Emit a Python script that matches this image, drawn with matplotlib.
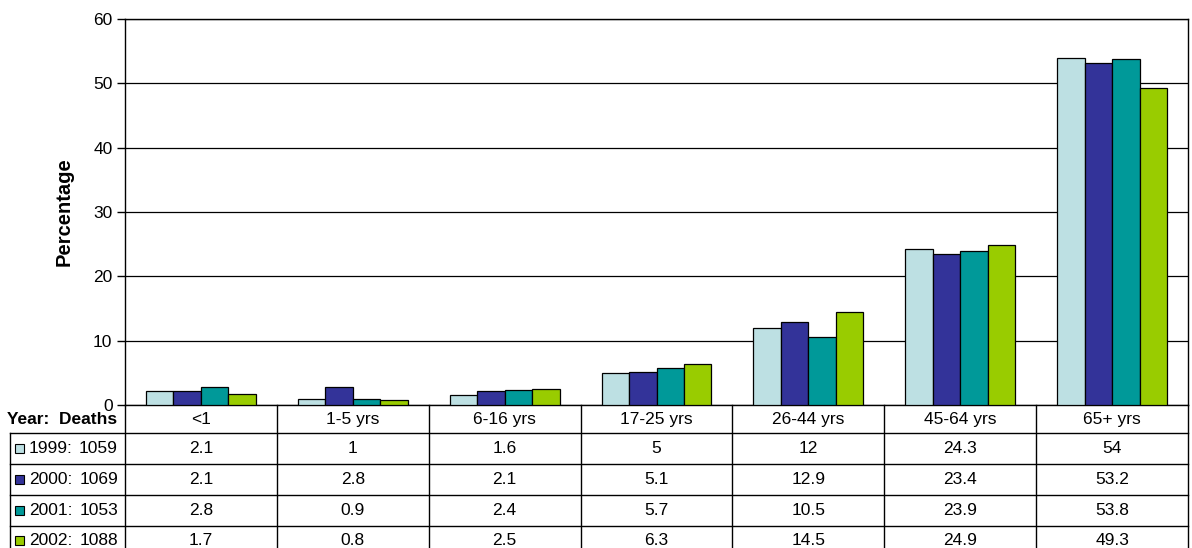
import matplotlib
matplotlib.use("Agg")
import matplotlib.pyplot as plt
from matplotlib.patches import Rectangle

plt.rcParams['font.family'] = ['Liberation Sans', 'DejaVu Sans']

categories = ['<1', '1-5 yrs', '6-16 yrs', '17-25 yrs', '26-44 yrs', '45-64 yrs', '65+ yrs']
years = ['1999', '2000', '2001', '2002']
deaths = ['1059', '1069', '1053', '1088']
v1999 = [2.1, 1, 1.6, 5, 12, 24.3, 54]
v2000 = [2.1, 2.8, 2.1, 5.1, 12.9, 23.4, 53.2]
v2001 = [2.8, 0.9, 2.4, 5.7, 10.5, 23.9, 53.8]
v2002 = [1.7, 0.8, 2.5, 6.3, 14.5, 24.9, 49.3]
series = [v1999, v2000, v2001, v2002]
labels_fmt = [['2.1', '1', '1.6', '5', '12', '24.3', '54'],
              ['2.1', '2.8', '2.1', '5.1', '12.9', '23.4', '53.2'],
              ['2.8', '0.9', '2.4', '5.7', '10.5', '23.9', '53.8'],
              ['1.7', '0.8', '2.5', '6.3', '14.5', '24.9', '49.3']]
colors = ['#BDE0E3', '#333399', '#009999', '#99CC00']
yticks = [0, 10, 20, 30, 40, 50, 60]

FS = 12.5
W, H = 1192, 548
fig = plt.figure(figsize=(W / 100, H / 100), dpi=100)

# main axes in pixel geometry
L, R, T, B = 125, 1188, 19, 405
ax = fig.add_axes([L / W, 1 - B / H, (R - L) / W, (B - T) / H])
n = len(categories)
ax.set_xlim(-0.5, n - 0.5)
ax.set_ylim(0, 60)
bw = 0.181
for i, (vals, c) in enumerate(zip(series, colors)):
    xs = [k + (i - 1.5) * bw for k in range(n)]
    ax.bar(xs, vals, width=bw, color=c, edgecolor='black', linewidth=0.9, zorder=3)
ax.set_yticks(yticks)
ax.set_yticklabels([str(t) for t in yticks], fontsize=FS)
ax.set_xticks([])
ax.tick_params(axis='y', direction='out', length=6, width=1, pad=3)
for s in ax.spines.values():
    s.set_color('black')
    s.set_linewidth(1)
ax.yaxis.grid(True, color='black', linewidth=0.9, zorder=0)
ax.set_axisbelow(True)
ax.set_ylabel('Percentage', fontsize=14.5, fontweight='bold', labelpad=14)

# table axes spanning full figure below plot, x in category units, y in pixels from top
cw = (R - L) / n
tax = fig.add_axes([0, 0, 1, 1 - B / H])
tax.set_xlim(-0.5 - L / cw, -0.5 + (W - L) / cw)
tax.set_ylim(H, B)
tax.axis('off')
x_left = -0.5 - (L - 10) / cw
x_right = n - 0.5
row_lines = [433, 464, 495, 526]
row_centers = [448.5, 479.5, 510.5, 540.5]
lw = 1.0
# vertical lines
for k in range(n + 1):
    tax.plot([k - 0.5, k - 0.5], [B, H], color='black', lw=lw, clip_on=False)
tax.plot([x_left, x_left], [row_lines[0], H], color='black', lw=lw)
for y in row_lines:
    tax.plot([x_left, x_right], [y, y], color='black', lw=lw)
# header
tax.text(-0.5 - 8 / cw, 419.5, 'Year:  Deaths', ha='right', va='center', fontsize=FS, fontweight='bold')
for k, c in enumerate(categories):
    tax.text(k, 419.5, c, ha='center', va='center', fontsize=FS)
# rows
for i in range(4):
    yc = row_centers[i]
    kx = -0.5 - (L - 15) / cw
    ks = 9 / cw
    tax.add_patch(Rectangle((kx, yc - 4.5), ks, 9, facecolor=colors[i], edgecolor='black', lw=0.8))
    tax.text(-0.5 - (L - 29) / cw, yc, years[i] + ':', ha='left', va='center', fontsize=FS)
    tax.text(-0.5 - 7 / cw, yc, deaths[i], ha='right', va='center', fontsize=FS)
    for k in range(n):
        tax.text(k, yc, labels_fmt[i][k], ha='center', va='center', fontsize=FS)

fig.savefig('out.png', dpi=100)
